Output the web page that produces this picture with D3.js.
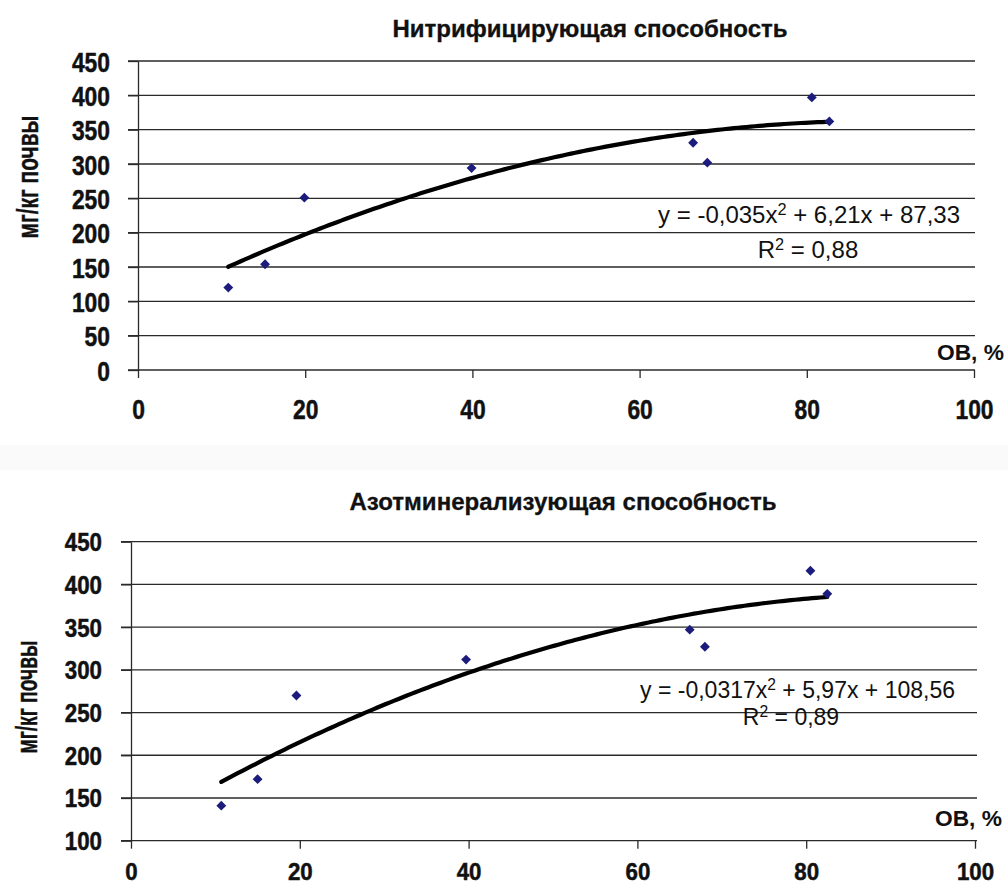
<!DOCTYPE html>
<html><head><meta charset="utf-8">
<script src="https://cdn.jsdelivr.net/npm/d3@7"></script>
<style>body{margin:0;background:#fff} svg{display:block}</style>
</head><body><svg id="c" width="1008" height="885"></svg>
<script>
// ---- data ----
const xTicks = [0, 20, 40, 60, 80, 100];
const yTicksTop = [0, 50, 100, 150, 200, 250, 300, 350, 400, 450];
const yTicksBottom = [100, 150, 200, 250, 300, 350, 400, 450];

const nitrTitle = "Нитрифицирующая способность";
const nitrX = [10.8, 15.2, 19.9, 39.9, 66.4, 68.1, 80.6, 82.7];
const nitrY = [120, 154, 251, 294, 331, 302, 397, 362];
const nitrCoef = [-0.035, 6.21, 87.33];
const nitrEq = ["y = -0,035x", "2", " + 6,21x + 87,33"];
const nitrR2 = ["R", "2", " = 0,88"];

const minTitle = "Азотминерализующая способность";
const minX = [10.7, 15.0, 19.6, 39.7, 66.2, 68.0, 80.5, 82.5];
const minY = [141, 172, 270, 312, 347, 327, 416, 389];
const minCoef = [-0.0317, 5.97, 108.56];
const minEq = ["y = -0,0317x", "2", " + 5,97x + 108,56"];
const minR2 = ["R", "2", " = 0,89"];

const yLabel = "мг/кг почвы";
const xLabel = "ОВ, %";

// ---- drawing ----
const svg = d3.select("#c");
svg.append("rect").attr("x", 0).attr("y", 445).attr("width", 1008).attr("height", 25).attr("fill", "#fafafa");

const narrow = "'Liberation Sans Narrow','Arial Narrow','Liberation Sans',Arial,sans-serif";
const sans = "'Liberation Sans',Arial,sans-serif";

function drawChart(o) {
  const g = svg.append("g");
  const x = d3.scaleLinear().domain([0, 100]).range([o.x0, o.x1]);
  const y = d3.scaleLinear().domain(o.yDomain).range([o.yB, o.yT]);

  // gridlines
  g.append("g").selectAll("line").data(o.yTicks).join("line")
    .attr("x1", o.gridL).attr("x2", o.gridR)
    .attr("y1", d => y(d)).attr("y2", d => y(d))
    .attr("stroke", "#2a2a2a").attr("stroke-width", 1.3);

  // y axis
  const ya = g.append("g").attr("transform", `translate(${o.x0},0)`)
    .call(d3.axisLeft(y).tickValues(o.yTicks).tickSize(o.x0 - o.gridL).tickSizeOuter(0));
  ya.select(".domain").attr("stroke", "#2a2a2a").attr("stroke-width", 1.3);
  ya.selectAll(".tick line").attr("stroke", "#2a2a2a").attr("stroke-width", 1.3);
  ya.selectAll(".tick text").attr("x", o.yLabX - o.x0).attr("dy", "0.36em")
    .attr("textLength", d => String(d).length * o.digitW).attr("lengthAdjust", "spacingAndGlyphs")
    .attr("stroke", "#111").attr("stroke-width", 0.5)
    .style("font-family", narrow).style("font-weight", "bold").style("font-size", o.tickFont + "px").attr("fill", "#111");

  // x axis
  const xa = g.append("g").attr("transform", `translate(0,${o.yB})`)
    .call(d3.axisBottom(x).tickValues(xTicks).tickSize(8).tickSizeOuter(0));
  xa.select(".domain").remove();
  xa.selectAll(".tick line").attr("stroke", "#2a2a2a").attr("stroke-width", 1.3);
  xa.selectAll(".tick text").attr("y", o.xLabBase - o.yB).attr("dy", 0)
    .attr("textLength", d => String(d).length * o.digitW).attr("lengthAdjust", "spacingAndGlyphs")
    .attr("stroke", "#111").attr("stroke-width", 0.5)
    .style("font-family", narrow).style("font-weight", "bold").style("font-size", (o.xTickFont || o.tickFont) + "px").attr("fill", "#111");

  // trendline
  const lo = d3.min(o.xs), hi = d3.max(o.xs);
  const tx = d3.range(lo, hi, 0.5).concat([hi]);
  const f = v => o.coef[0] * v * v + o.coef[1] * v + o.coef[2];
  g.append("path").datum(tx)
    .attr("d", d3.line().x(d => x(d)).y(d => y(f(d))))
    .attr("fill", "none").attr("stroke", "#000").attr("stroke-width", 4.2).attr("stroke-linecap", "round");

  // points
  const pts = o.xs.map((v, i) => [v, o.ys[i]]);
  g.append("g").selectAll("path").data(pts).join("path")
    .attr("transform", d => `translate(${x(d[0])},${y(d[1])})`)
    .attr("d", d3.symbol(d3.symbolDiamond2, 62)())
    .attr("fill", "#1c1c7c");

  // title
  g.append("text").attr("x", o.titleX).attr("y", o.titleY).attr("text-anchor", "middle")
    .attr("textLength", o.titleW).attr("lengthAdjust", "spacingAndGlyphs")
    .attr("stroke", "#111").attr("stroke-width", 0.3)
    .style("font-family", sans).style("font-weight", "bold").style("font-size", o.titleFont + "px")
    .attr("fill", "#111").text(o.title);

  // y label
  g.append("text").attr("transform", `translate(${o.yTitleX},${o.yTitleY}) rotate(-90)`)
    .attr("text-anchor", "middle").attr("textLength", o.yTitleW).attr("lengthAdjust", "spacingAndGlyphs")
    .attr("stroke", "#111").attr("stroke-width", 0.4)
    .style("font-family", narrow).style("font-weight", "bold").style("font-size", "29px")
    .attr("fill", "#111").text(yLabel);

  // x label
  g.append("text").attr("x", o.xTitleR).attr("y", o.xTitleY).attr("text-anchor", "end")
    .attr("textLength", 67).attr("lengthAdjust", "spacingAndGlyphs")
    .style("font-family", sans).style("font-weight", "bold").style("font-size", "22px")
    .attr("fill", "#111").text(xLabel);

  // equation
  const eq = g.append("text").attr("x", o.eqR).attr("y", o.eqY).attr("text-anchor", "end")
    .style("font-family", sans).style("font-size", o.eqFont + "px").attr("fill", "#111");
  eq.append("tspan").text(o.eq[0]);
  eq.append("tspan").attr("dy", -8).style("font-size", (o.eqFont * 0.68) + "px").text(o.eq[1]);
  eq.append("tspan").attr("dy", 8).text(o.eq[2]);

  const r2 = g.append("text").attr("x", o.r2X).attr("y", o.r2Y).attr("text-anchor", "middle")
    .style("font-family", sans).style("font-size", o.eqFont + "px").attr("fill", "#111");
  r2.append("tspan").text(o.r2[0]);
  r2.append("tspan").attr("dy", -8).style("font-size", (o.eqFont * 0.68) + "px").text(o.r2[1]);
  r2.append("tspan").attr("dy", 8).text(o.r2[2]);
}

drawChart({
  x0: 138, x1: 974, yT: 61, yB: 370, yDomain: [0, 450], yTicks: yTicksTop,
  gridL: 128, gridR: 975, yLabX: 110, xLabBase: 419, tickFont: 28, digitW: 12.7,
  xs: nitrX, ys: nitrY, coef: nitrCoef,
  title: nitrTitle, titleX: 590, titleY: 37, titleW: 395, titleFont: 23,
  yTitleX: 38, yTitleY: 177, yTitleW: 123,
  xTitleR: 1004, xTitleY: 360,
  eq: nitrEq, eqR: 960, eqY: 223, eqFont: 24,
  r2: nitrR2, r2X: 808, r2Y: 258
});

drawChart({
  x0: 131, x1: 975, yT: 541.7, yB: 840.7, yDomain: [100, 450], yTicks: yTicksBottom,
  gridL: 121, gridR: 977, yLabX: 102, xLabBase: 880, tickFont: 25, xTickFont: 24, digitW: 12.4,
  xs: minX, ys: minY, coef: minCoef,
  title: minTitle, titleX: 563, titleY: 510, titleW: 427, titleFont: 24,
  yTitleX: 37, yTitleY: 697, yTitleW: 113,
  xTitleR: 1002, xTitleY: 826,
  eq: minEq, eqR: 955, eqY: 698, eqFont: 23,
  r2: minR2, r2X: 791, r2Y: 725
});
</script></body></html>
